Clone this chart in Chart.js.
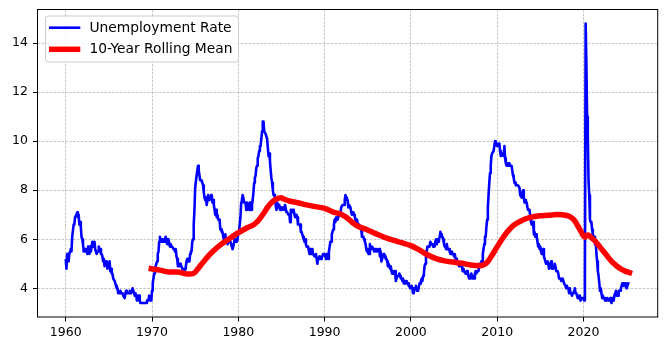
<!DOCTYPE html>
<html>
<head>
<meta charset="UTF-8">
<title>Unemployment Rate</title>
<script src="https://cdn.jsdelivr.net/npm/chart.js"></script>
<style>
  body { margin: 0; background: #fff; }
  canvas { display: block; }
</style>
</head>
<body>
<canvas id="chart" width="667" height="351"></canvas>
<script>
// monthly unemployment rate (%), Jan 1960 .. May 2025
const startYear = 1960;
const unemployment = [
  5.2, 4.8, 5.4, 5.2, 5.1, 5.4, 5.5, 5.6, 5.5, 6.1, 6.1, 6.6,   // 1960
  6.6, 6.9, 6.9, 7.0, 7.1, 6.9, 7.0, 6.6, 6.7, 6.5, 6.1, 6.0,   // 1961
  5.8, 5.5, 5.6, 5.6, 5.5, 5.5, 5.4, 5.7, 5.6, 5.4, 5.7, 5.5,
  5.7, 5.9, 5.7, 5.7, 5.9, 5.6, 5.6, 5.4, 5.5, 5.5, 5.7, 5.5,
  5.6, 5.4, 5.4, 5.3, 5.1, 5.2, 4.9, 5.0, 5.1, 5.1, 4.8, 5.0,
  4.9, 5.1, 4.7, 4.8, 4.6, 4.6, 4.4, 4.4, 4.3, 4.2, 4.1, 4.0,   // 1965
  4.0, 3.8, 3.8, 3.8, 3.9, 3.8, 3.8, 3.8, 3.7, 3.7, 3.6, 3.8,
  3.9, 3.8, 3.8, 3.8, 3.8, 3.9, 3.8, 3.8, 3.8, 4.0, 3.9, 3.8,
  3.7, 3.8, 3.7, 3.5, 3.5, 3.7, 3.7, 3.5, 3.4, 3.4, 3.4, 3.4,
  3.4, 3.4, 3.4, 3.4, 3.4, 3.5, 3.5, 3.5, 3.7, 3.7, 3.5, 3.5,
  3.9, 4.2, 4.4, 4.6, 4.8, 4.9, 5.0, 5.1, 5.4, 5.5, 5.9, 6.1,   // 1970
  5.9, 5.9, 6.0, 5.9, 5.9, 5.9, 6.0, 6.1, 6.0, 5.8, 6.0, 6.0,
  5.8, 5.7, 5.8, 5.7, 5.7, 5.7, 5.6, 5.6, 5.5, 5.6, 5.3, 5.2,
  4.9, 5.0, 4.9, 5.0, 4.9, 4.9, 4.8, 4.8, 4.8, 4.6, 4.8, 4.9,
  5.1, 5.2, 5.1, 5.1, 5.1, 5.4, 5.5, 5.5, 5.9, 6.0, 6.6, 7.2,
  8.1, 8.1, 8.6, 8.8, 9.0, 8.8, 8.6, 8.4, 8.4, 8.4, 8.3, 8.2,   // 1975
  7.9, 7.7, 7.6, 7.7, 7.4, 7.6, 7.8, 7.8, 7.6, 7.7, 7.8, 7.8,
  7.5, 7.6, 7.4, 7.2, 7.0, 7.2, 6.9, 7.0, 6.8, 6.8, 6.8, 6.4,
  6.4, 6.3, 6.3, 6.1, 6.0, 5.9, 6.2, 5.9, 6.0, 5.8, 5.9, 6.0,
  5.9, 5.9, 5.8, 5.8, 5.6, 5.7, 5.7, 6.0, 5.9, 6.0, 5.9, 6.0,
  6.3, 6.3, 6.3, 6.9, 7.5, 7.6, 7.8, 7.7, 7.5, 7.5, 7.5, 7.2,   // 1980
  7.5, 7.4, 7.4, 7.2, 7.5, 7.5, 7.2, 7.4, 7.6, 7.9, 8.3, 8.5,
  8.6, 8.9, 9.0, 9.3, 9.4, 9.6, 9.8, 9.8, 10.1, 10.4, 10.8, 10.8,
  10.4, 10.4, 10.3, 10.2, 10.1, 10.1, 9.4, 9.5, 9.2, 8.8, 8.5, 8.3,
  8.0, 7.8, 7.8, 7.7, 7.4, 7.2, 7.5, 7.5, 7.3, 7.4, 7.2, 7.3,
  7.3, 7.2, 7.2, 7.3, 7.2, 7.4, 7.4, 7.1, 7.1, 7.1, 7.0, 7.0,   // 1985
  6.7, 7.2, 7.2, 7.1, 7.2, 7.2, 7.0, 6.9, 7.0, 7.0, 6.9, 6.6,
  6.6, 6.6, 6.6, 6.3, 6.3, 6.2, 6.1, 6.0, 5.9, 6.0, 5.8, 5.7,
  5.7, 5.7, 5.7, 5.4, 5.6, 5.4, 5.4, 5.6, 5.4, 5.4, 5.3, 5.3,
  5.4, 5.2, 5.0, 5.2, 5.2, 5.3, 5.2, 5.2, 5.3, 5.3, 5.4, 5.4,
  5.4, 5.3, 5.2, 5.4, 5.4, 5.2, 5.5, 5.7, 5.9, 5.9, 6.2, 6.3,   // 1990
  6.4, 6.6, 6.8, 6.7, 6.9, 6.9, 6.8, 6.9, 6.9, 7.0, 7.0, 7.3,
  7.3, 7.4, 7.4, 7.4, 7.6, 7.8, 7.7, 7.6, 7.6, 7.3, 7.4, 7.4,
  7.3, 7.1, 7.0, 7.1, 7.1, 7.0, 6.9, 6.8, 6.7, 6.8, 6.6, 6.5,
  6.6, 6.6, 6.5, 6.4, 6.1, 6.1, 6.1, 6.0, 5.9, 5.8, 5.6, 5.5,
  5.6, 5.4, 5.4, 5.8, 5.6, 5.6, 5.7, 5.7, 5.6, 5.5, 5.6, 5.6,   // 1995
  5.6, 5.5, 5.5, 5.6, 5.6, 5.3, 5.5, 5.1, 5.2, 5.2, 5.4, 5.4,
  5.3, 5.2, 5.2, 5.1, 4.9, 5.0, 4.9, 4.8, 4.9, 4.7, 4.6, 4.7,
  4.6, 4.6, 4.7, 4.3, 4.4, 4.5, 4.5, 4.5, 4.6, 4.5, 4.4, 4.4,
  4.3, 4.4, 4.2, 4.3, 4.2, 4.3, 4.3, 4.2, 4.2, 4.1, 4.1, 4.0,
  4.0, 4.1, 4.0, 3.8, 4.0, 4.0, 4.0, 4.1, 3.9, 3.9, 3.9, 3.9,   // 2000
  4.2, 4.2, 4.3, 4.4, 4.3, 4.5, 4.6, 4.9, 5.0, 5.3, 5.5, 5.7,
  5.7, 5.7, 5.7, 5.9, 5.8, 5.8, 5.8, 5.7, 5.7, 5.7, 5.9, 6.0,
  5.8, 5.9, 5.9, 6.0, 6.1, 6.3, 6.2, 6.1, 6.1, 6.0, 5.8, 5.7,
  5.7, 5.6, 5.8, 5.6, 5.6, 5.6, 5.5, 5.4, 5.4, 5.5, 5.4, 5.4,
  5.3, 5.4, 5.2, 5.2, 5.1, 5.0, 5.0, 4.9, 5.0, 5.0, 5.0, 4.9,   // 2005
  4.7, 4.8, 4.7, 4.7, 4.6, 4.6, 4.7, 4.7, 4.5, 4.4, 4.5, 4.4,
  4.6, 4.5, 4.4, 4.5, 4.4, 4.6, 4.7, 4.6, 4.7, 4.7, 4.7, 5.0,
  5.0, 4.9, 5.1, 5.0, 5.4, 5.6, 5.8, 6.1, 6.1, 6.5, 6.8, 7.3,
  7.8, 8.3, 8.7, 9.0, 9.4, 9.5, 9.5, 9.6, 9.8, 10.0, 9.9, 9.9,
  9.8, 9.8, 9.9, 9.9, 9.6, 9.4, 9.4, 9.5, 9.5, 9.4, 9.8, 9.3,   // 2010
  9.1, 9.0, 9.0, 9.1, 9.0, 9.1, 9.0, 9.0, 9.0, 8.8, 8.6, 8.5,
  8.3, 8.3, 8.2, 8.2, 8.2, 8.2, 8.2, 8.1, 7.8, 7.8, 7.7, 7.9,
  8.0, 7.7, 7.5, 7.6, 7.5, 7.5, 7.3, 7.2, 7.2, 7.2, 6.9, 6.7,
  6.6, 6.7, 6.7, 6.2, 6.3, 6.1, 6.2, 6.1, 5.9, 5.7, 5.8, 5.6,
  5.7, 5.5, 5.4, 5.4, 5.6, 5.3, 5.2, 5.1, 5.0, 5.0, 5.1, 5.0,   // 2015
  4.8, 4.9, 5.0, 5.1, 4.8, 4.9, 4.8, 4.9, 5.0, 4.9, 4.7, 4.7,
  4.7, 4.6, 4.4, 4.4, 4.4, 4.3, 4.3, 4.4, 4.3, 4.2, 4.2, 4.1,
  4.0, 4.1, 4.0, 4.0, 3.8, 4.0, 3.8, 3.8, 3.7, 3.8, 3.8, 3.9,
  4.0, 3.8, 3.8, 3.7, 3.6, 3.6, 3.7, 3.6, 3.5, 3.6, 3.6, 3.6,
  3.6, 3.5, 4.4, 14.8, 13.2, 11.0, 10.2, 8.4, 7.8, 6.8, 6.7, 6.7,   // 2020
  6.4, 6.2, 6.1, 6.1, 5.8, 5.9, 5.4, 5.1, 4.7, 4.5, 4.2, 3.9,
  4.0, 3.8, 3.6, 3.7, 3.6, 3.6, 3.5, 3.6, 3.5, 3.6, 3.6, 3.5,
  3.5, 3.6, 3.5, 3.4, 3.6, 3.6, 3.5, 3.7, 3.8, 3.9, 3.7, 3.8,
  3.7, 3.9, 3.9, 3.9, 4.0, 4.1, 4.2, 4.2, 4.1, 4.1, 4.2, 4.1,
  4.0, 4.1, 4.2, 4.2, 4.2                                         // 2025
];

// 10-year rolling mean, read at year ends (plus a few extra points)
const rollingDates = [
  1969.92, 1970.92, 1971.92, 1972.92, 1973.92, 1974.42, 1974.92, 1975.42, 1975.92,
  1976.42, 1976.92, 1977.92, 1978.92, 1979.92, 1980.92, 1981.92, 1982.42, 1982.92,
  1983.42, 1983.92, 1984.42, 1984.92, 1985.42, 1985.92, 1986.92, 1987.92, 1988.92,
  1989.92, 1990.92, 1991.92, 1992.42, 1992.92, 1993.42, 1993.92, 1994.92, 1995.92,
  1996.92, 1997.92, 1998.92, 1999.92, 2000.92, 2001.92, 2002.92, 2003.92, 2004.92,
  2005.92, 2006.92, 2007.92, 2008.42, 2008.92, 2009.42, 2009.92, 2010.42, 2010.92,
  2011.42, 2011.92, 2012.92, 2013.92, 2014.92, 2015.92, 2016.92, 2017.92, 2018.42,
  2018.92, 2019.42, 2019.92, 2020.17, 2020.25, 2020.5, 2020.92, 2021.42, 2021.92,
  2022.42, 2022.92, 2023.42, 2023.92, 2024.42, 2024.92, 2025.33
];
const rollingMean = [
  4.80, 4.74, 4.67, 4.67, 4.59, 4.58, 4.63, 4.84, 5.06,
  5.27, 5.46, 5.77, 6.01, 6.25, 6.45, 6.63, 6.81, 7.05,
  7.32, 7.52, 7.64, 7.69, 7.62, 7.56, 7.49, 7.40, 7.33,
  7.27, 7.12, 7.02, 6.92, 6.78, 6.63, 6.52, 6.39, 6.23,
  6.08, 5.96, 5.86, 5.75, 5.58, 5.37, 5.21, 5.12, 5.07,
  5.02, 4.95, 4.92, 4.96, 5.09, 5.36, 5.65, 5.93, 6.19,
  6.40, 6.58, 6.78, 6.90, 6.96, 6.98, 7.01, 6.98, 6.92,
  6.78, 6.50, 6.18, 6.08, 6.13, 6.17, 6.07, 5.90, 5.68,
  5.46, 5.24, 5.04, 4.89, 4.77, 4.69, 4.64
];

const xTicks = [1960, 1970, 1980, 1990, 2000, 2010, 2020];
const yTicks = [4, 6, 8, 10, 12, 14];
const seriesLabels = ['Unemployment Rate', '10-Year Rolling Mean'];

const ratePoints = unemployment.map((v, i) => ({ x: startYear + i / 12, y: v }));
const meanPoints = rollingMean.map((v, i) => ({ x: rollingDates[i], y: v }));

// black box round the plot + legend in the upper left corner
const framePlugin = {
  id: 'frame',
  afterDraw(chart) {
    const { ctx, chartArea: a } = chart;
    ctx.save();
    ctx.strokeStyle = '#000';
    ctx.lineWidth = 1;
    ctx.strokeRect(a.left, a.top, a.right - a.left, a.bottom - a.top);

    // legend
    const bx = a.left + 8, by = a.top + 6.5, bw = 193, bh = 46;
    ctx.beginPath();
    ctx.roundRect(bx, by, bw, bh, 3);
    ctx.fillStyle = 'rgba(255,255,255,0.8)';
    ctx.fill();
    ctx.strokeStyle = '#cccccc';
    ctx.stroke();

    const rows = [
      { color: chart.data.datasets[0].borderColor, width: 2.6, y: a.top + 18.2 },
      { color: chart.data.datasets[1].borderColor, width: 5.5, y: a.top + 39.8 }
    ];
    ctx.font = '13.8px "DejaVu Sans"';
    ctx.textBaseline = 'middle';
    ctx.fillStyle = '#000';
    rows.forEach((r, i) => {
      ctx.beginPath();
      ctx.strokeStyle = r.color;
      ctx.lineWidth = r.width;
      ctx.moveTo(a.left + 11.5, r.y);
      ctx.lineTo(a.left + 42.8, r.y);
      ctx.stroke();
      ctx.fillText(seriesLabels[i], a.left + 52, r.y + 0.5);
    });
    ctx.restore();
  }
};

const gridStyle = {
  color: 'rgba(150,150,150,0.75)',
  lineWidth: 0.7,
  tickColor: '#000',
  tickWidth: 1,
  tickLength: 4.5
};

new Chart(document.getElementById('chart'), {
  type: 'line',
  data: {
    datasets: [
      {
        label: seriesLabels[0],
        data: ratePoints,
        borderColor: '#0000ff',
        borderWidth: 2.6,
        borderJoinStyle: 'round',
        pointRadius: 0,
        tension: 0,
        order: 1
      },
      {
        label: seriesLabels[1],
        data: meanPoints,
        borderColor: '#ff0000',
        borderWidth: 5.5,
        pointRadius: 0,
        cubicInterpolationMode: 'monotone',
        borderCapStyle: 'square',
        order: 0
      }
    ]
  },
  options: {
    responsive: false,
    animation: false,
    devicePixelRatio: 1,
    layout: { padding: { top: 9.5, right: 9.3, left: 0, bottom: 0 } },
    plugins: {
      legend: { display: false },
      tooltip: { enabled: false }
    },
    scales: {
      x: {
        type: 'linear',
        min: 1956.73,
        max: 2028.6,
        afterBuildTicks: axis => { axis.ticks = xTicks.map(v => ({ value: v })); },
        afterFit: axis => { axis.height = 34; axis.paddingLeft = 0; axis.paddingRight = 0; },
        grid: gridStyle,
        border: { display: false, dash: [2.6, 1.3] },
        ticks: {
          autoSkip: false,
          maxRotation: 0,
          padding: 4,
          color: '#000',
          font: { family: 'DejaVu Sans', size: 12.5 },
          callback: v => String(v)
        }
      },
      y: {
        min: 2.83,
        max: 15.37,
        afterBuildTicks: axis => { axis.ticks = yTicks.map(v => ({ value: v })); },
        afterFit: axis => { axis.width = 37.5; axis.paddingTop = 0; axis.paddingBottom = 0; },
        grid: gridStyle,
        border: { display: false, dash: [2.6, 1.3] },
        ticks: {
          padding: 5,
          color: '#000',
          font: { family: 'DejaVu Sans', size: 12.5 },
          callback: v => String(v)
        }
      }
    }
  },
  plugins: [framePlugin]
});
</script>
</body>
</html>
